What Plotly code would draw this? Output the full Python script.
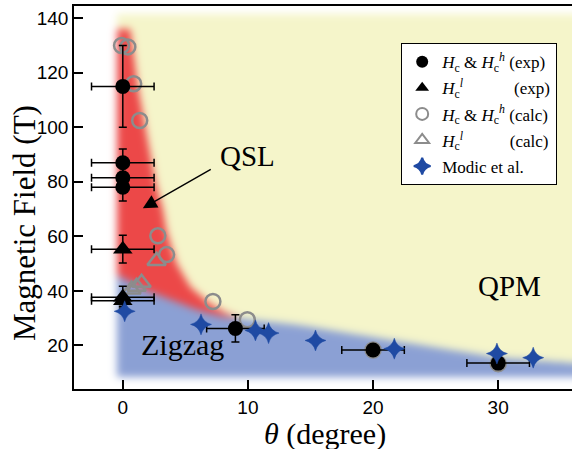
import numpy as np
import plotly.graph_objects as go

# ---------------- data ----------------
exp_c_theta = [0, 0, 0, 0, 9, 20, 30]
exp_c_field = [115, 87, 81.5, 78, 26.2, 18.3, 13.5]
exp_c_theta_err = [2.5, 2.5, 2.5, 2.5, 2.3, 2.5, 2.5]
exp_c_field_err = [15, 5, 5, 5, 5, 0, 0]

exp_l_theta = [0, 0, 0]
exp_l_field = [55.3, 37.7, 36.4]
exp_l_theta_err = [2.5, 2.5, 2.5]
exp_l_field_err = [5.1, 4, 2]

calc_c_theta = [-0.1, 0.4, 0.87, 1.35, 2.8, 3.5, 7.2, 9.95, 20, 30]
calc_c_field = [130, 129.5, 116, 102.5, 60.2, 53.3, 36.1, 29.4, 18.3, 13.3]

calc_l_theta = [2.7, 0.7, 1.1, 1.5]
calc_l_field = [51, 40.5, 41.5, 43]

modic_theta = [0.15, 6.25, 10.6, 11.65, 15.4, 21.7, 29.9, 32.8]
modic_field = [32.5, 27.7, 25.5, 24.5, 21.8, 18.8, 17, 15.5]

x_ticks = [0, 10, 20, 30]
y_ticks = [20, 40, 60, 80, 100, 120, 140]

# ---------------- phase-region background (shape definitions) ----------------
X_LO, X_HI = -3.9, 35.9
Y_LO, Y_HI = 4.0, 144.5
NW, NH = 498, 383
dx = (X_HI - X_LO) / NW
dy = (Y_HI - Y_LO) / NH
th = X_LO + (np.arange(NW) + 0.5) * dx
hh = Y_LO + (np.arange(NH) + 0.5) * dy
TH, HH = np.meshgrid(th, hh)

blue_top_theta = [-0.5, 2, 6, 8, 10, 14, 20, 30, 36]
blue_top_field = [46, 40, 33, 30.5, 29.5, 27.5, 23, 15.5, 13.5]
red_edge_field = [28, 32, 35.5, 41.5, 50, 62, 70, 80, 100, 115, 136]
red_edge_theta = [10.5, 8.2, 6.9, 5.4, 4.3, 3.5, 3.2, 2.6, 1.8, 1.2, 0.6]

colored = (TH > -0.5) & (HH > 8.5) & (HH < 141.5)
blue = colored & (HH < np.interp(TH, blue_top_theta, blue_top_field))
red = colored & ~blue & (TH < np.interp(HH, red_edge_field, red_edge_theta)) & (HH < 136)
yellow = colored & ~blue & ~red

WHITE = (255, 255, 255)
YELLOW = (245, 245, 202)
RED = (236, 72, 72)
BLUE = (139, 160, 212)

img = np.zeros((NH, NW, 3), dtype=float)
for c in range(3):
    ch = np.full((NH, NW), WHITE[c], dtype=float)
    ch[yellow] = YELLOW[c]
    ch[red] = RED[c]
    ch[blue] = BLUE[c]
    img[:, :, c] = ch


def gblur(a, sigma):
    r = int(3 * sigma)
    k = np.exp(-0.5 * (np.arange(-r, r + 1) / sigma) ** 2)
    k /= k.sum()
    p = np.pad(a, ((r, r), (r, r)), mode="edge")
    t = np.apply_along_axis(lambda v: np.convolve(v, k, mode="valid"), 1, p)
    return np.apply_along_axis(lambda v: np.convolve(v, k, mode="valid"), 0, t)


for c in range(3):
    img[:, :, c] = gblur(img[:, :, c], 4.0)
img = np.clip(np.round(img), 0, 255).astype(np.uint8)

# ---------------- figure ----------------
fig = go.Figure()
fig.add_trace(go.Image(z=img, x0=th[0], y0=hh[0], dx=dx, dy=dy, hoverinfo="skip"))

GRAY = "#8c8c8c"
NAVY = "#1f4aa3"
err_style = dict(type="data", color="black", thickness=1.5, width=4)
NB = "\u00a0"

fig.add_trace(go.Scatter(
    x=calc_c_theta, y=calc_c_field, mode="markers",
    name="<i>H</i><sub>c</sub> &amp; <i>H</i><sub>c</sub><sup><i>h</i></sup> (calc)",
    legendgroup="c", legendrank=3,
    marker=dict(symbol="circle-open", size=15, color=GRAY, line=dict(width=2.5, color=GRAY))))
fig.add_trace(go.Scatter(
    x=calc_l_theta, y=calc_l_field, mode="markers",
    name="<i>H</i><sub>c</sub><sup><i>l</i></sup>" + NB * 10 + " (calc)",
    legendgroup="d", legendrank=4,
    marker=dict(symbol="triangle-up-open", size=16, color=GRAY, line=dict(width=2.5, color=GRAY))))
fig.add_trace(go.Scatter(
    x=exp_c_theta, y=exp_c_field, mode="markers",
    name="<i>H</i><sub>c</sub> &amp; <i>H</i><sub>c</sub><sup><i>h</i></sup> (exp)",
    legendgroup="a", legendrank=1,
    error_x=dict(array=exp_c_theta_err, **err_style),
    error_y=dict(array=exp_c_field_err, **err_style),
    marker=dict(symbol="circle", size=15, color="black")))
fig.add_trace(go.Scatter(
    x=exp_l_theta, y=exp_l_field, mode="markers",
    name="<i>H</i><sub>c</sub><sup><i>l</i></sup>" + NB * 11 + " (exp)",
    legendgroup="b", legendrank=2,
    error_x=dict(array=exp_l_theta_err, **err_style),
    error_y=dict(array=exp_l_field_err, **err_style),
    marker=dict(symbol="triangle-up", size=17, color="black")))
fig.add_trace(go.Scatter(
    x=modic_theta, y=modic_field, mode="markers",
    name="Modic et al.",
    legendgroup="e", legendrank=5,
    marker=dict(symbol="star-diamond", size=15, color=NAVY, line=dict(width=0.5, color=NAVY))))

SERIF = "Liberation Serif"
SANS = "Liberation Sans"

fig.update_layout(
    width=572, height=449,
    margin=dict(l=74, r=0, t=6, b=60),
    plot_bgcolor="white", paper_bgcolor="white",
    font=dict(family=SERIF, size=17, color="black"),
    showlegend=True,
    legend=dict(x=0.657, y=0.903, xanchor="left", yanchor="top",
                bgcolor="white", bordercolor="black", borderwidth=1,
                font=dict(family=SERIF, size=17, color="black"),
                itemsizing="constant", tracegroupgap=1),
    xaxis=dict(range=[X_LO, X_HI], tickvals=x_ticks, ticks="inside", ticklen=9,
               tickwidth=1.5, tickcolor="black", showline=True, linecolor="black",
               linewidth=1.5, mirror=True, showgrid=False, zeroline=False,
               tickfont=dict(family=SANS, size=19, color="black")),
    yaxis=dict(range=[Y_LO, Y_HI], tickvals=y_ticks, ticks="inside", ticklen=9,
               tickwidth=1.5, tickcolor="black", showline=True, linecolor="black",
               linewidth=1.5, mirror=False, showgrid=False, zeroline=False,
               scaleanchor=False, autorange=False,
               tickfont=dict(family=SANS, size=19, color="black")),
    annotations=[
        dict(text="Magnetic Field (T)", xref="paper", yref="paper", x=-0.098, y=0.434,
             xanchor="center", yanchor="middle", textangle=-90, showarrow=False,
             font=dict(family=SERIF, size=31, color="black")),
        dict(text="<i>θ</i> (degree)", xref="paper", yref="paper", x=0.504, y=-0.118,
             xanchor="center", yanchor="middle", showarrow=False,
             font=dict(family=SERIF, size=30, color="black")),
        dict(text="QSL", x=10.0, y=89.5, xref="x", yref="y", showarrow=False,
             font=dict(family=SERIF, size=29, color="black")),
        dict(text="QPM", x=30.9, y=41.7, xref="x", yref="y", showarrow=False,
             font=dict(family=SERIF, size=29, color="black")),
        dict(text="Zigzag", x=4.8, y=20.4, xref="x", yref="y", showarrow=False,
             font=dict(family=SERIF, size=30, color="black")),
        dict(text="", x=1.6, y=70.3, ax=7.15, ay=84.9, xref="x", yref="y",
             axref="x", ayref="y", showarrow=True, arrowhead=2, arrowsize=2,
             arrowwidth=1.4, arrowcolor="black", standoff=0),
    ],
)

fig.write_html("out.html", config={"displayModeBar": False},
               post_script="document.body.style.margin='0px';")
